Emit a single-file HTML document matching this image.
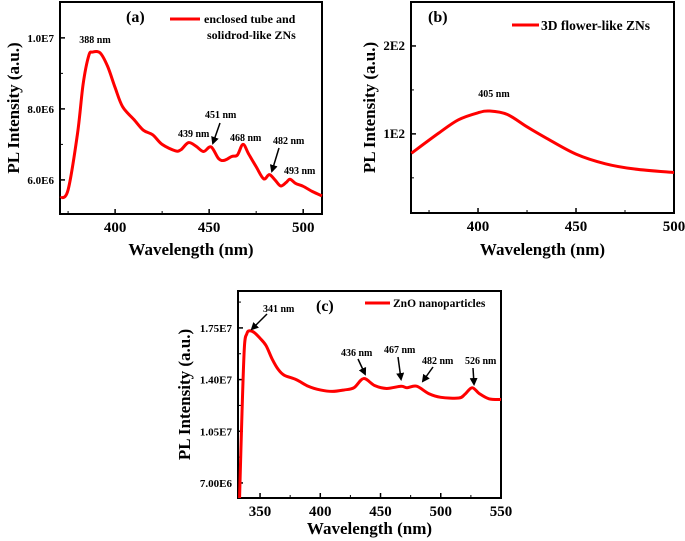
<!DOCTYPE html>
<html><head><meta charset="utf-8">
<style>
body{margin:0;background:#fff;}
svg{display:block;font-family:"Liberation Serif",serif;font-weight:bold;}
</style></head>
<body>
<svg id="chart" width="685" height="541" viewBox="0 0 685 541" xmlns="http://www.w3.org/2000/svg">
<defs><marker id="ah" markerWidth="8" markerHeight="8" refX="6" refY="4" orient="auto" markerUnits="userSpaceOnUse"><path d="M0,0 L8,4 L0,8 z" fill="#000"/></marker></defs>
</svg>
<script>
// Panel (a)
const aWave=[371,375,380,383,386,388,392,396,400,404,410,415,420,425,432,435,439,443,447,451,455,458,462,465,468,471,475,479,482,485,488,491,493,496,500,505,510];
const aVal=[5.49e6,5.72e6,7.3e6,8.7e6,9.5e6,9.6e6,9.58e6,9.2e6,8.6e6,8.06e6,7.7e6,7.4e6,7.27e6,7.0e6,6.82e6,6.85e6,7.05e6,6.95e6,6.8e6,6.93e6,6.6e6,6.55e6,6.66e6,6.7e6,7.0e6,6.73e6,6.37e6,6.03e6,6.15e6,6.0e6,5.83e6,5.93e6,6.02e6,5.9e6,5.82e6,5.67e6,5.55e6];
const aXTicks=[400,450,500];
const aYTicks=[6e6,8e6,1e7];
const aYLabels=["6.0E6","8.0E6","1.0E7"];
// Panel (b)
const bWave=[366,380,390,400,406,415,425,435,450,465,480,500];
const bVal=[78,101,116,124,126,122,108,95,77,66,60,56];
const bXTicks=[400,450,500];
const bYTicks=[100,200];
const bYLabels=["1E2","2E2"];
// Panel (c)
const cWave=[333,335,337,339,341,345,350,355,360,365,370,380,390,400,410,420,428,436,445,455,467,472,480,490,500,515,520,526,532,540,550];
const cVal=[5.9e6,1.17e7,1.62e7,1.71e7,1.73e7,1.72e7,1.68e7,1.63e7,1.54e7,1.47e7,1.43e7,1.40e7,1.355e7,1.33e7,1.32e7,1.33e7,1.345e7,1.407e7,1.36e7,1.34e7,1.355e7,1.345e7,1.355e7,1.305e7,1.28e7,1.275e7,1.30e7,1.345e7,1.305e7,1.27e7,1.265e7];
const cXTicks=[350,400,450,500,550];
const cYTicks=[7e6,1.05e7,1.4e7,1.75e7];
const cYLabels=["7.00E6","1.05E7","1.40E7","1.75E7"];

const svg=document.getElementById('chart');
const NS='http://www.w3.org/2000/svg';
function mk(tag,attrs,parent){const e=document.createElementNS(NS,tag);for(const k in attrs)e.setAttribute(k,attrs[k]);(parent||svg).appendChild(e);return e;}
function txt(s,attrs,parent){const e=mk('text',attrs,parent);e.textContent=s;return e;}

function panel(p){
  const g=mk('g',{});
  
  
  const sx=v=>p.x0+(v-p.xmin)/(p.xmax-p.xmin)*(p.x1-p.x0);
  const sy=v=>p.y1-(v-p.ymin)/(p.ymax-p.ymin)*(p.y1-p.y0);
  const box=mk('rect',{x:p.x0,y:p.y0,width:p.x1-p.x0,height:p.y1-p.y0,fill:'none',stroke:'#000','stroke-width':2},g);
  
  
  p.xt.forEach(v=>{
    const x=sx(v);
    const t=mk('line',{x1:x,x2:x,y1:p.y1,y2:p.y1-5,stroke:'#000','stroke-width':1.5},g);
    
    
    const l=txt(String(v),{x:x,y:p.y1+18,'text-anchor':'middle','font-size':15},g);
    
    
    const mv=v-(p.xt[1]-p.xt[0])/2;
    if(mv>p.xmin){const m=mk('line',{x1:sx(mv),x2:sx(mv),y1:p.y1,y2:p.y1-3,stroke:'#000','stroke-width':1},g);
    
    }
  });
  const lastX=p.xt[p.xt.length-1]+(p.xt[1]-p.xt[0])/2;
  if(lastX<p.xmax){const m=mk('line',{x1:sx(lastX),x2:sx(lastX),y1:p.y1,y2:p.y1-3,stroke:'#000','stroke-width':1},g);}
  const dy=p.yt[1]-p.yt[0];
  p.yt.forEach((v,i)=>{
    const y=sy(v);
    const t=mk('line',{x1:p.x0,x2:p.x0+5,y1:y,y2:y,stroke:'#000','stroke-width':1.5},g);
    
    
    const l=txt(p.yl[i],{x:p.x0-6,y:y+4,'text-anchor':'end','font-size':p.yfs||11},g);
    
    
  });
  for(let v=p.yt[0]-dy*1.5;v<p.ymax;v+=dy){ if(v>p.ymin){const y=sy(v);const m=mk('line',{x1:p.x0,x2:p.x0+3,y1:y,y2:y,stroke:'#000','stroke-width':1},g);}}
  const pts=p.w.map((w,i)=>[sx(w),Math.min(p.y1,Math.max(p.y0,sy(p.v[i])))]);
  let d='M'+pts[0][0]+','+pts[0][1];
  for(let i=1;i<pts.length;i++){
    const p0=pts[Math.max(0,i-2)],p1=pts[i-1],p2=pts[i],p3=pts[Math.min(pts.length-1,i+1)];
    const c1=[p1[0]+(p2[0]-p0[0])/6,p1[1]+(p2[1]-p0[1])/6],c2=[p2[0]-(p3[0]-p1[0])/6,p2[1]-(p3[1]-p1[1])/6];
    d+=' C'+c1.join(',')+' '+c2.join(',')+' '+p2.join(',');
  }
  const c=mk('path',{d:d,fill:'none',stroke:'#ff0000','stroke-width':3,'stroke-linejoin':'round'},g);
  
  
  const yl=txt('PL Intensity (a.u.)',{x:0,y:0,'text-anchor':'middle','font-size':17,transform:`translate(${p.ylx},${(p.y0+p.y1)/2}) rotate(-90)`},g);
  
  
  const xl=txt('Wavelength (nm)',{x:(p.x0+p.x1)/2,y:p.y1+p.xto,'text-anchor':'middle','font-size':17},g);
  
  
  return g;
}
const ga=panel({name:'panel-a',x0:60,x1:322,y0:2,y1:214,xmin:370.7,xmax:510,ymin:5.04e6,ymax:1.101e7,w:aWave,v:aVal,xt:aXTicks,yt:aYTicks,yl:aYLabels,ylx:19,xto:41});
const gb=panel({name:'panel-b',x0:411,x1:674,y0:2,y1:213,xmin:365.8,xmax:500,ymin:10,ymax:250,w:bWave,v:bVal,xt:bXTicks,yt:bYTicks,yl:bYLabels,ylx:375,xto:42,yfs:13});
const gc=panel({name:'panel-c',x0:238,x1:501,y0:291,y1:498,xmin:331.7,xmax:550,ymin:5.98e6,ymax:2.0e7,w:cWave,v:cVal,xt:cXTicks,yt:cYTicks,yl:cYLabels,ylx:190,xto:36});

function label(s,x,y,size,name,anchor){const t=txt(s,{x:x,y:y,'font-size':size,'text-anchor':anchor||'start'});}
function legline(x1,x2,y,name){const l=mk('line',{x1:x1,x2:x2,y1:y,y2:y,stroke:'#ff0000','stroke-width':3});}
function arrow(x1,y1,x2,y2){const a=mk('line',{x1:x1,y1:y1,x2:x2,y2:y2,stroke:'#000','stroke-width':1.5,'marker-end':'url(#ah)'});}

label('(a)',126,22,16,'panel-a-letter');
legline(170,200,19,'legend-swatch-a');
label('enclosed tube and',204,23,12,'legend-label-a');
label('solidrod-like ZNs',207,39,12,'legend-label-a-line2');
label('388 nm',95,43,10,'peak-label-388','middle');
label('439 nm',178,137,10,'peak-label-439');
label('451 nm',205,118,10,'peak-label-451');
arrow(220,123,213,143);
label('468 nm',230,141,10,'peak-label-468');
label('482 nm',273,144,10,'peak-label-482');
arrow(279,148,272,171);
label('493 nm',284,174,10,'peak-label-493');

label('(b)',428,22,16,'panel-b-letter');
legline(512,539,25,'legend-swatch-b');
label('3D flower-like ZNs',541,30,13.5,'legend-label-b');
label('405 nm',494,97,10,'peak-label-405','middle');

label('(c)',316,311,16,'panel-c-letter');
legline(365,390,303,'legend-swatch-c');
label('ZnO nanoparticles',393,307,11.5,'legend-label-c');
label('341 nm',263,312,10,'peak-label-341');
arrow(267,314,252,329);
label('436 nm',341,356,10,'peak-label-436');
arrow(358,359,365,374);
label('467 nm',384,353,10,'peak-label-467');
arrow(398,357,401,379);
label('482 nm',422,364,10,'peak-label-482c');
arrow(433,367,423,381);
label('526 nm',465,364,10,'peak-label-526');
arrow(473,368,474,384);
</script>
</body></html>
